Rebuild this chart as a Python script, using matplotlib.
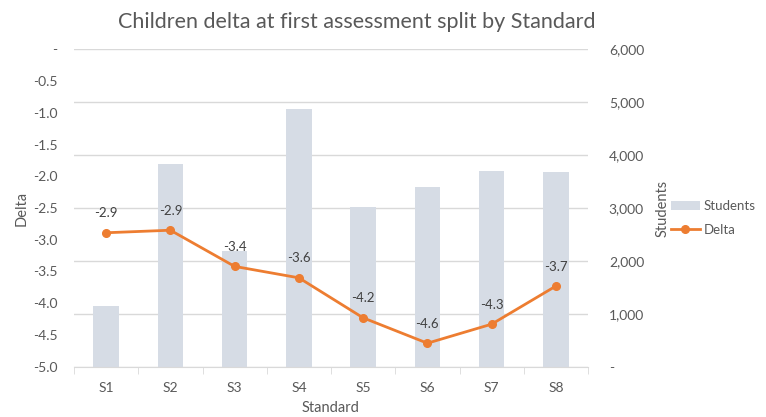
import matplotlib
matplotlib.use("Agg")
import matplotlib.pyplot as plt
from matplotlib.ticker import FuncFormatter, MultipleLocator, FixedLocator
from matplotlib.patches import Patch
from matplotlib.lines import Line2D

standards = ["S1", "S2", "S3", "S4", "S5", "S6", "S7", "S8"]
students = [1140, 3840, 2190, 4880, 3020, 3390, 3700, 3675]
delta = [-2.89, -2.85, -3.42, -3.60, -4.23, -4.63, -4.33, -3.73]
delta_labels = ["-2.9", "-2.9", "-3.4", "-3.6", "-4.2", "-4.6", "-4.3", "-3.7"]

BAR = "#d6dce5"
ORANGE = "#ed7d31"
GREY = "#595959"
GRID = "#d9d9d9"


def main():
    plt.rcParams["font.family"] = ["Lato", "DejaVu Sans"]
    fig = plt.figure(figsize=(7.66, 4.17), dpi=100)
    ax_bar = fig.add_axes([74 / 766, 1 - 366.7 / 417, 514 / 766, 317.4 / 417])
    ax_line = ax_bar.twinx()

    x = list(range(len(standards)))

    # students on the right axis, drawn underneath
    ax_bar.bar(x, students, width=0.4, color=BAR, zorder=2)
    ax_bar.set_ylim(0, 6000)
    ax_bar.set_xlim(-0.5, len(standards) - 0.5)
    ax_bar.yaxis.set_major_locator(MultipleLocator(1000))
    ax_bar.yaxis.set_major_formatter(
        FuncFormatter(lambda v, p: "-" if v == 0 else f"{int(v):,}"))
    ax_bar.yaxis.tick_right()
    ax_bar.yaxis.set_label_position("right")
    ax_bar.grid(axis="y", color=GRID, linewidth=1, zorder=0)
    ax_bar.set_axisbelow(True)

    # delta on the left axis
    ax_line.plot(x, delta, color=ORANGE, linewidth=2, marker="o",
                 markersize=5.5, zorder=3)
    ax_line.set_ylim(-5.0, 0)
    ax_line.yaxis.set_major_locator(MultipleLocator(0.5))
    ax_line.yaxis.set_major_formatter(
        FuncFormatter(lambda v, p: "-" if abs(v) < 1e-9 else f"{v:.1f}"))
    ax_line.yaxis.tick_left()
    ax_line.yaxis.set_label_position("left")
    for xi, yi, lab in zip(x, delta, delta_labels):
        ax_line.annotate(lab, (xi, yi), xytext=(0, 14), textcoords="offset points",
                         ha="center", va="center", fontsize=9.5, color="#404040")

    for a in (ax_bar, ax_line):
        for s in a.spines.values():
            s.set_visible(False)
        a.tick_params(axis="y", length=0, colors=GREY, labelsize=10)
    ax_bar.tick_params(axis="y", pad=15)
    ax_line.tick_params(axis="y", pad=12)

    ax_bar.spines["bottom"].set_visible(True)
    ax_bar.spines["bottom"].set_color(GRID)
    ax_bar.set_xticks(x)
    ax_bar.set_xticklabels(standards)
    ax_bar.xaxis.set_minor_locator(FixedLocator([i - 0.5 for i in range(len(standards) + 1)]))
    ax_bar.tick_params(axis="x", which="major", length=0, colors=GREY,
                       labelsize=10, pad=11)
    ax_bar.tick_params(axis="x", which="minor", length=5, color=GRID)

    ax_bar.set_xlabel("Standard", color=GREY, fontsize=10.5, labelpad=5)
    ax_bar.set_ylabel("Students", color=GREY, fontsize=10.5, labelpad=8)
    ax_line.set_ylabel("Delta", color=GREY, fontsize=10.5, labelpad=3)

    fig.suptitle("Children delta at first assessment split by Standard",
                 x=(123 + 590) / 2 / 766, y=1 - 22 / 417, va="center",
                 color=GREY, fontsize=15.5)

    handles = [Patch(facecolor=BAR, edgecolor="none", label="Students"),
               Line2D([0], [0], color=ORANGE, linewidth=2, marker="o",
                      markersize=5.5, label="Delta")]
    fig.legend(handles=handles, loc="center left",
               bbox_to_anchor=(668 / 766, 1 - 218 / 417), frameon=False,
               fontsize=9.5, labelcolor=GREY, handlelength=2.2,
               handletextpad=0.3, labelspacing=0.9, borderaxespad=0,
               borderpad=0.2)

    fig.savefig("out.png", dpi=100)


if __name__ == "__main__":
    main()
